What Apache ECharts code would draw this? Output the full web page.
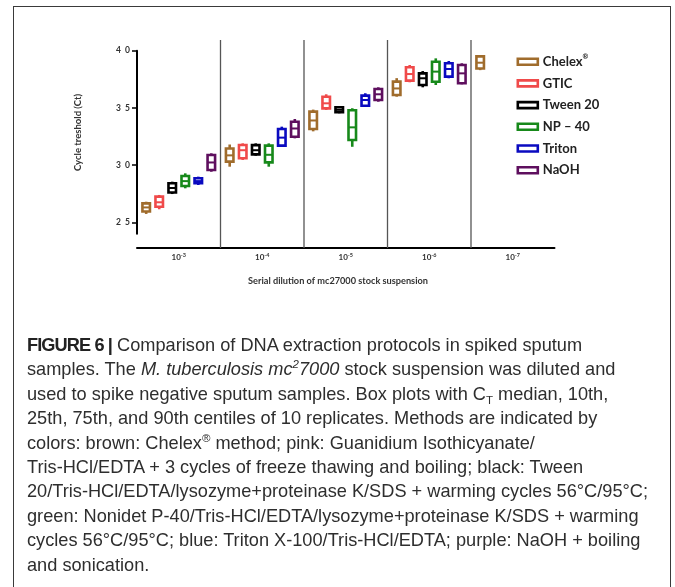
<!DOCTYPE html>
<html><head><meta charset="utf-8">
<script src="https://cdn.jsdelivr.net/npm/echarts@6/dist/echarts.min.js"></script>
<style>
html,body{margin:0;padding:0;background:#fff;}
#wrap{position:relative;width:675px;height:587px;overflow:hidden;background:#fff;}
#chart{position:absolute;left:0;top:0;width:675px;height:587px;}
#frame{position:absolute;left:12.5px;top:6px;width:656px;height:620px;border:1.4px solid #3a3a3a;border-bottom:none;pointer-events:none;}
#cap{position:absolute;left:27px;top:333px;font-family:'Liberation Sans',Arial,sans-serif;font-size:18.2px;line-height:24.4px;color:#2e2e2e;white-space:nowrap;}
#cap b{font-weight:700;color:#222;letter-spacing:-0.9px;}
#cap sup,#cap sub{font-size:11.5px;line-height:0;position:relative;vertical-align:baseline;}
#cap sup{top:-7px;}
#cap sub{top:4px;}
</style></head>
<body>
<div id="wrap">
<div id="chart"></div>
<div id="frame"></div>
<div id="cap"><b>FIGURE 6 |</b> Comparison of DNA extraction protocols in spiked sputum<br>samples. The <i>M. tuberculosis mc<sup>2</sup>7000</i> stock suspension was diluted and<br>used to spike negative sputum samples. Box plots with C<sub>T</sub> median, 10th,<br>25th, 75th, and 90th centiles of 10 replicates. Methods are indicated by<br>colors: brown: Chelex<sup>®</sup> method; pink: Guanidium Isothicyanate/<br>Tris-HCl/EDTA + 3 cycles of freeze thawing and boiling; black: Tween<br>20/Tris-HCl/EDTA/lysozyme+proteinase K/SDS + warming cycles 56°C/95°C;<br>green: Nonidet P-40/Tris-HCl/EDTA/lysozyme+proteinase K/SDS + warming<br>cycles 56°C/95°C; blue: Triton X-100/Tris-HCl/EDTA; purple: NaOH + boiling<br>and sonication.</div>
</div>
<script>
// Categories: serial dilutions (10^exponent)
const categories = ['10^-3', '10^-4', '10^-5', '10^-6', '10^-7'];
const seriesNames = ['Chelex®', 'GTIC', 'Tween 20', 'NP – 40', 'Triton', 'NaOH'];
const colors = ['#a06c2c', '#f04a4a', '#000000', '#17891a', '#0a0ac0', '#5e0f5e'];
const yTickValues = [25, 30, 35, 40];

// each row: [category index, low (10th), Q1 (25th), median, Q3 (75th), high (90th)]
const chelex = [
  [0, 25.73, 25.95, 26.3, 26.65, 26.8],
  [1, 29.86, 30.3, 30.85, 31.45, 31.8],
  [2, 32.95, 33.15, 33.9, 34.67, 34.85],
  [3, 35.98, 36.13, 36.7, 37.3, 37.6],
  [4, 38.3, 38.45, 38.95, 39.5, 39.6]
];
const gtic = [
  [0, 26.14, 26.36, 26.75, 27.24, 27.39],
  [1, 30.45, 30.6, 31.3, 31.76, 31.9],
  [2, 34.82, 34.96, 35.4, 35.98, 36.19],
  [3, 37.24, 37.38, 37.96, 38.55, 38.75]
];
const tween20 = [
  [0, 27.47, 27.6, 28.0, 28.41, 28.55],
  [1, 30.82, 30.94, 31.3, 31.75, 31.9],
  [2, 34.53, 34.62, 34.83, 35.05, 35.1],
  [3, 36.8, 37.0, 37.59, 38.02, 38.22]
];
const np40 = [
  [0, 27.97, 28.17, 28.6, 29.05, 29.28],
  [1, 29.86, 30.24, 30.9, 31.7, 31.9],
  [2, 31.6, 32.2, 33.3, 34.8, 34.97],
  [3, 37.0, 37.29, 38.17, 39.04, 39.33]
];
const triton = [
  [0, 28.26, 28.41, 28.6, 28.85, 28.99],
  [1, 31.6, 31.7, 32.4, 33.16, 33.36],
  [2, 35.1, 35.19, 35.69, 36.07, 36.28],
  [3, 37.59, 37.73, 38.4, 38.9, 39.1]
];
const naoh = [
  [0, 29.42, 29.57, 30.23, 30.88, 31.03],
  [1, 32.34, 32.48, 33.2, 33.79, 34.03],
  [2, 35.54, 35.69, 36.19, 36.65, 36.8],
  [3, 37.06, 37.15, 38.02, 38.75, 38.9]
];
const allData = [chelex, gtic, tween20, np40, triton, naoh];
const separatorIndexes = [1, 2, 3, 4];

const chart = echarts.init(document.getElementById('chart'), null, {renderer: 'canvas'});

function boxRender(sIdx) {
  return function (params, api) {
    const cat = api.value(0);
    const band = api.size([1, 0])[0];
    const step = band * 0.156;
    const cx = api.coord([cat, 30])[0] + (sIdx - 2.5) * step;
    const w = band * 0.09;
    const yl = api.coord([cat, api.value(1)])[1];
    const y1 = api.coord([cat, api.value(2)])[1];
    const ym = api.coord([cat, api.value(3)])[1];
    const y3 = api.coord([cat, api.value(4)])[1];
    const yh = api.coord([cat, api.value(5)])[1];
    const c = colors[sIdx];
    return {
      type: 'group',
      children: [
        {type: 'line', shape: {x1: cx, y1: yh, x2: cx, y2: y3}, style: {stroke: c, lineWidth: 2.6}},
        {type: 'line', shape: {x1: cx, y1: y1, x2: cx, y2: yl}, style: {stroke: c, lineWidth: 2.6}},
        {type: 'rect', shape: {x: cx - w / 2, y: y3, width: w, height: y1 - y3}, style: {fill: '#fff', stroke: c, lineWidth: 2.6}},
        {type: 'line', shape: {x1: cx - w / 2, y1: ym, x2: cx + w / 2, y2: ym}, style: {stroke: c, lineWidth: 2}}
      ]
    };
  };
}

const series = allData.map((d, i) => ({
  name: seriesNames[i],
  type: 'custom',
  xAxisIndex: 0,
  yAxisIndex: 0,
  itemStyle: {color: colors[i]},
  renderItem: boxRender(i),
  encode: {x: 0, y: [1, 2, 3, 4, 5]},
  data: d,
  z: 3
}));

series.push({
  name: 'separators',
  type: 'custom',
  xAxisIndex: 0,
  yAxisIndex: 0,
  silent: true,
  renderItem: function (params, api) {
    const band = api.size([1, 0])[0];
    const x = api.coord([api.value(0), 30])[0] - band / 2;
    const cs = params.coordSys;
    return {type: 'line', shape: {x1: x, y1: cs.y, x2: x, y2: cs.y + cs.height}, style: {stroke: '#555', lineWidth: 1.3}};
  },
  data: separatorIndexes.map(v => [v]),
  z: 1
});

const gridLeft = 137, gridWidth = 417.5;
const option = {
  animation: false,
  backgroundColor: '#fff',
  grid: [
    {left: gridLeft, top: 40, width: gridWidth, height: 208},
    {left: gridLeft, top: 50.7, width: gridWidth, height: 183}
  ],
  xAxis: [
    {
      gridIndex: 0, type: 'category', data: categories,
      axisLine: {lineStyle: {color: '#000', width: 2}},
      axisTick: {alignWithLabel: true, length: 3, lineStyle: {color: '#000', width: 1.2}},
      axisLabel: {
        margin: 4,
        formatter: function (v) { const p = v.split('^'); return '{b|' + p[0] + '}{s|' + p[1] + '}'; },
        rich: {
          b: {fontFamily: 'Lato', fontWeight: 'bold', fontSize: 8, color: '#333'},
          s: {fontFamily: 'Lato', fontWeight: 'bold', fontSize: 5.5, color: '#333', verticalAlign: 'top', padding: [0, 0, 4, 0]}
        }
      },
      splitLine: {show: false}
    },
    {gridIndex: 1, type: 'category', data: categories, show: false}
  ],
  yAxis: [
    {gridIndex: 0, type: 'value', min: 22.753, max: 40.935, show: false},
    {
      gridIndex: 1, type: 'value', min: 24, max: 40,
      axisLine: {show: true, lineStyle: {color: '#000', width: 2}},
      axisTick: {show: true, customValues: yTickValues, length: 5, lineStyle: {color: '#000', width: 1.5}},
      axisLabel: {
        customValues: yTickValues, margin: 7,
        fontFamily: 'Lato', fontWeight: 'bold', fontSize: 8.5, color: '#333',
        formatter: v => String(v).split('').join('\u2002')
      },
      splitLine: {show: false}
    }
  ],
  legend: {
    orient: 'vertical', left: 511.5, top: 48.7,
    itemWidth: 20, itemHeight: 6, itemGap: 5.7,
    selectedMode: false,
    textStyle: {
      fontFamily: 'Lato', fontWeight: 'bold', fontSize: 13, color: '#222', lineHeight: 16,
      rich: {
        n: {fontFamily: 'Lato', fontWeight: 'bold', fontSize: 13, color: '#222'},
        s: {fontFamily: 'Lato', fontWeight: 'bold', fontSize: 7, color: '#222', verticalAlign: 'top', padding: [0, 0, 6, 0]}
      }
    },
    formatter: function (name) {
      if (name.slice(-1) === '®') return '{n|' + name.slice(0, -1) + '}{s|®}';
      return name;
    },
    data: seriesNames.map((n, i) => ({name: n, icon: 'rect', itemStyle: {color: '#fff', borderColor: colors[i], borderWidth: 2.6}}))
  },
  graphic: [
    {type: 'text', x: 78, y: 132.5, rotation: Math.PI / 2,
      style: {text: 'Cycle treshold (Ct)', fontFamily: 'Lato', fontWeight: 'bold', fontSize: 9.5, fill: '#333', align: 'center', verticalAlign: 'middle'}},
    {type: 'text', x: 338, y: 281.5,
      style: {text: 'Serial dilution of mc27000 stock suspension', fontFamily: 'Lato', fontWeight: 'bold', fontSize: 9.2, fill: '#333', align: 'center', verticalAlign: 'middle'}}
  ],
  series: series
};
chart.setOption(option);
</script>
</body></html>
